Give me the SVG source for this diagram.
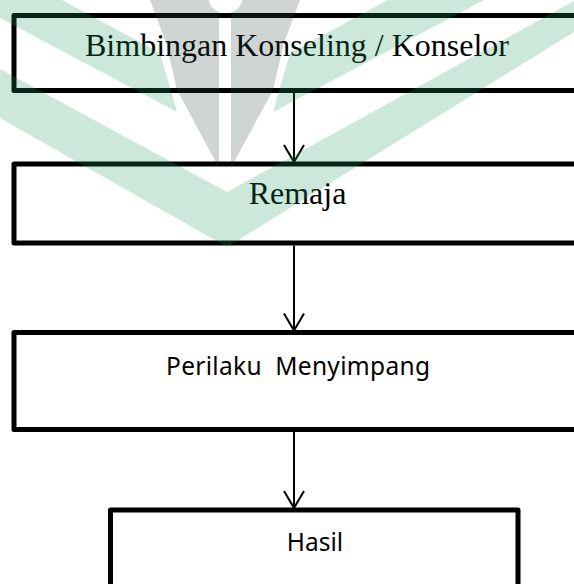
<svg xmlns="http://www.w3.org/2000/svg" width="574" height="584" viewBox="0 0 574 584">
  <style>
    .box { fill: none; stroke: #000; stroke-width: 5; stroke-linejoin: round; }
    .serif { font-family: "Liberation Serif", "Times New Roman", serif; font-size: 32px; fill: #000; text-anchor: middle; }
    .sans { font-family: "Noto Sans", "Liberation Sans", sans-serif; font-size: 24.5px; fill: #000; text-anchor: middle; }
    .conn { stroke: #000; stroke-width: 2; fill: none; }
    .wm-green { fill: #219b5e; fill-opacity: 0.23; }
    .wm-gray { fill: #2e483b; fill-opacity: 0.23; }
  </style>
  <defs>
    <marker id="open" markerUnits="userSpaceOnUse" viewBox="-1 -12 20 24" refX="17" refY="0" markerWidth="20" markerHeight="24" orient="auto">
      <path d="M0,-10 L17,0 L0,10" fill="none" stroke="#000" stroke-width="2"/>
    </marker>
  </defs>
  <rect width="574" height="584" fill="#fff"/>

  <g id="node-bimbingan">
    <rect class="box" x="14" y="15.5" width="600" height="75"/>
    <text class="serif" x="297" y="56">Bimbingan Konseling / Konselor</text>
  </g>
  <g id="node-remaja">
    <rect class="box" x="14" y="164" width="600" height="79"/>
    <text class="serif" x="297.5" y="204">Remaja</text>
  </g>
  <g id="node-perilaku">
    <rect class="box" x="14" y="332.5" width="600" height="97"/>
    <text class="sans" x="298" y="375" textLength="264" lengthAdjust="spacing" xml:space="preserve">Perilaku  Menyimpang</text>
  </g>
  <g id="node-hasil">
    <rect class="box" x="110.5" y="510" width="407.5" height="100"/>
    <text class="sans" x="315" y="551">Hasil</text>
  </g>

  <g id="connectors">
    <line class="conn" x1="294" y1="93" x2="294" y2="162" marker-end="url(#open)"/>
    <line class="conn" x1="294" y1="245.5" x2="294" y2="330.5" marker-end="url(#open)"/>
    <line class="conn" x1="294" y1="432" x2="294" y2="508" marker-end="url(#open)"/>
  </g>

  <g id="watermark">
    <polygon class="wm-green" points="0,0 62,0 160,53 177,112 0,18"/>
    <polygon class="wm-green" points="290,53 388,0 484,0 273,112"/>
    <polygon class="wm-green" points="0,69 227,192 574,1 574,32 227,247 0,118"/>
    <path class="wm-gray" d="M150,0 L208.5,0 A17.5,17.5 0 0 0 219,12.2 L219,168 L177,90 L166,43 Z"/>
    <path class="wm-gray" d="M231,168 L231,12.6 A17.5,17.5 0 0 0 242.5,0 L300,0 L284,43 L273,90 Z"/>
  </g>
</svg>
